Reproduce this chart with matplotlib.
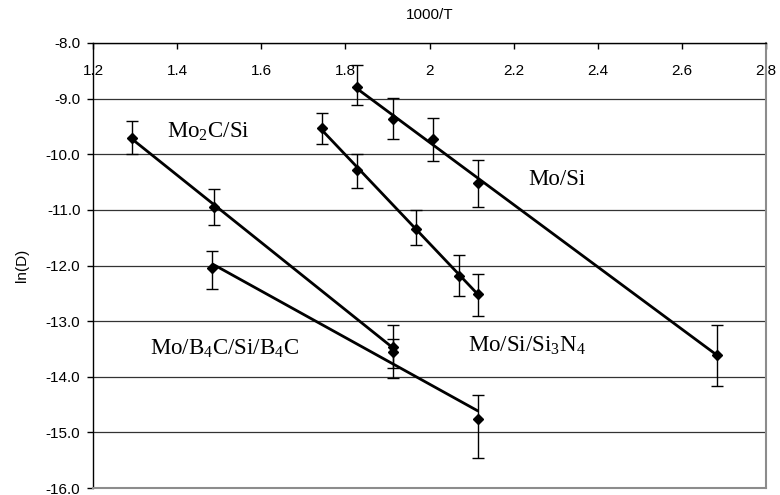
import numpy as np
import matplotlib
matplotlib.use("Agg")
import matplotlib.pyplot as plt

# Diffusion data: x = 1000/T, y = ln(D), with lower/upper error extents
mo2c_x = [1.292, 1.488, 1.913]
mo2c_y = [-9.70, -10.94, -13.47]
mo2c_lo = [0.29, 0.34, 0.37]
mo2c_hi = [0.30, 0.31, 0.40]

mosi_x = [1.827, 1.914, 2.009, 2.116, 2.683]
mosi_y = [-8.79, -9.37, -9.73, -10.51, -13.60]
mosi_lo = [0.33, 0.36, 0.39, 0.43, 0.56]
mosi_hi = [0.39, 0.39, 0.39, 0.41, 0.53]

mosin_x = [1.745, 1.827, 1.968, 2.071, 2.116]
mosin_y = [-9.53, -10.28, -11.34, -12.18, -12.51]
mosin_lo = [0.29, 0.32, 0.29, 0.36, 0.40]
mosin_hi = [0.27, 0.28, 0.34, 0.36, 0.36]

mob4c_x = [1.484, 1.913, 2.116]
mob4c_y = [-12.04, -13.56, -14.76]
mob4c_lo = [0.39, 0.46, 0.70]
mob4c_hi = [0.30, 0.23, 0.43]

x_ticks = [1.2, 1.4, 1.6, 1.8, 2.0, 2.2, 2.4, 2.6, 2.8]
x_tick_labels = ["1.2", "1.4", "1.6", "1.8", "2", "2.2", "2.4", "2.6", "2.8"]
y_ticks = [-8.0, -9.0, -10.0, -11.0, -12.0, -13.0, -14.0, -15.0, -16.0]

series = [
    (mo2c_x, mo2c_y, mo2c_lo, mo2c_hi),
    (mosi_x, mosi_y, mosi_lo, mosi_hi),
    (mosin_x, mosin_y, mosin_lo, mosin_hi),
    (mob4c_x, mob4c_y, mob4c_lo, mob4c_hi),
]

labels = [
    (1.375, -9.60, r"$\mathregular{Mo_2C/Si}$"),
    (2.235, -10.46, "Mo/Si"),
    (1.336, -13.49, r"$\mathregular{Mo/B_4C/Si/B_4C}$"),
    (2.092, -13.45, r"$\mathregular{Mo/Si/Si_3N_4}$"),
]

plt.rcParams["font.family"] = ["Liberation Sans", "DejaVu Sans"]

fig = plt.figure(figsize=(7.8, 4.95), dpi=100)
ax = fig.add_axes([93 / 780, 7 / 495, 673 / 780, 445 / 495])

for xs, ys, lo, hi in series:
    xs = np.asarray(xs)
    ys = np.asarray(ys)
    ax.errorbar(xs, ys, yerr=[lo, hi], fmt="none", ecolor="black",
                elinewidth=1.0, capsize=4, capthick=1.0, zorder=3)
    # linear trend line over the data range
    k, b = np.polyfit(xs, ys, 1)
    xl = np.array([xs.min(), xs.max()])
    ax.plot(xl, k * xl + b, color="black", lw=2.0, zorder=4,
            solid_capstyle="butt")
    ax.plot(xs, ys, linestyle="none", marker="D", ms=5.5,
            color="black", zorder=5)

for x, y, s in labels:
    ax.text(x, y, s, fontsize=16.5, va="center", ha="left",
            family=["Liberation Serif", "DejaVu Serif"])

ax.set_xlim(1.2, 2.8)
ax.set_ylim(-16.0, -8.0)
ax.set_xticks(x_ticks)
ax.set_xticklabels(x_tick_labels)
ax.set_yticks(y_ticks)
ax.set_yticklabels([f"{v:.1f}" for v in y_ticks])

ax.xaxis.tick_top()
ax.tick_params(axis="x", direction="in", length=4, width=1, pad=-25,
               labelsize=11, top=True, bottom=False)
ax.tick_params(axis="y", direction="out", length=4, width=1, pad=5,
               labelsize=11)

ax.grid(axis="y", color="#333333", lw=0.9)
ax.set_axisbelow(True)

for side in ("left", "top"):
    ax.spines[side].set_color("black")
    ax.spines[side].set_linewidth(1.0)
for side in ("right", "bottom"):
    ax.spines[side].set_color("#8c8c8c")
    ax.spines[side].set_linewidth(1.5)

ax.xaxis.set_label_position("top")
ax.set_xlabel("1000/T", fontsize=11)
ax.xaxis.label.set_va("center")
ax.xaxis.set_label_coords(0.5, (495 - 15 - 7) / 445)
ax.set_ylabel("ln(D)", fontsize=11)
ax.yaxis.label.set_va("center")
ax.yaxis.set_label_coords((22 - 93) / 673, 0.5)

fig.savefig("out.png", dpi=100)
